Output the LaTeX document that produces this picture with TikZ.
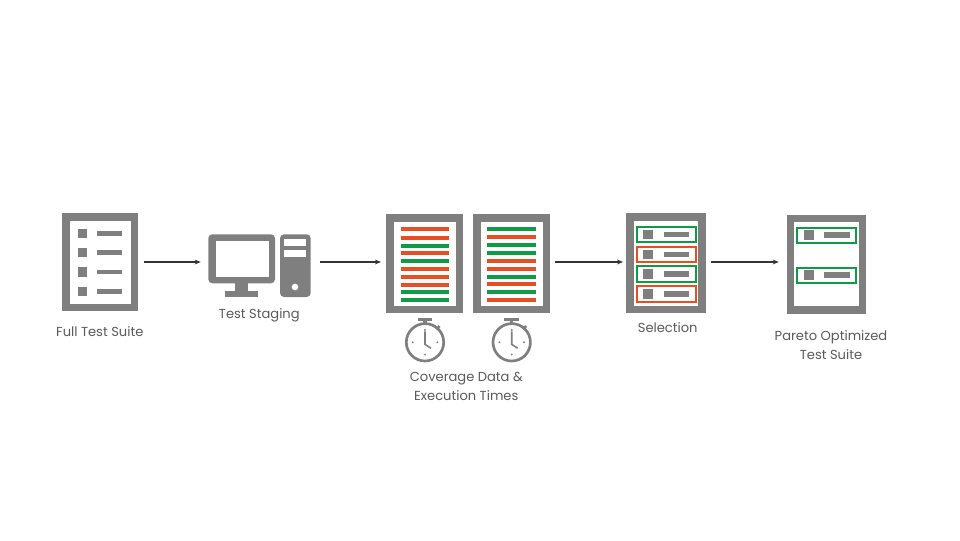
\documentclass[tikz,border=0pt]{standalone}
\usepackage{fontspec}
\setmainfont{Poppins}
\usepackage{tikz}
\usetikzlibrary{arrows.meta,positioning,calc}
\definecolor{iconGray}{HTML}{7F7F7F}
\definecolor{passGreen}{HTML}{0F9A48}
\definecolor{failRed}{HTML}{E84E23}
\definecolor{labelGray}{HTML}{5A5A5A}
% one row on a sheet: small square, short bar
\newcommand{\rowmark}[2]{%
  \fill[iconGray] (#1,#2-4.7) rectangle (#1+10,#2+4.7);
  \draw[line width=4pt, iconGray] (#1+20.6,#2) -- (#1+46,#2);
}

\begin{document}
\begin{tikzpicture}[>=Stealth, x=.75pt, y=-.75pt,
    sheet/.style 2 args={draw=iconGray, line width=5.5pt, fill=white, minimum width=#1, minimum height=#2, inner sep=0pt},
    flow/.style={-{Stealth[length=4.5pt,width=3.6pt]}, draw=black!80, line width=.8pt},
    caption/.style={font=\fontsize{9.8pt}{14.25pt}\selectfont, text=labelGray, inner sep=0pt, align=center},
    barline/.style={line width=3.2pt},
    rowbox/.style={line width=1.5pt}]
  \useasboundingbox (0,0) rectangle (960,540);
  \coordinate (rail) at (0,262);

  % full suite
  \node[sheet={51.3pt}{67.8pt}] (suite) at (100.15,262.2) {};
  \foreach \y in {233.3,252.7,272,291.3} {
    \fill[iconGray] (78,\y-4.7) rectangle (87.3,\y+4.7);
    \draw[line width=3.5pt, iconGray] (97.3,\y) -- (122,\y);
  }
  \node[caption] (suiteL) at (99.8,331.7) {Full Test Suite};

  % staging machine
  \node[minimum width=76.8pt, minimum height=47pt, inner sep=0pt] (staging) at (259.5,265.7) {};
  \fill[iconGray, rounded corners=3pt] (208.3,234.3) rectangle (275,283.3);
  \fill[white] (215.7,240.7) rectangle (268.7,277.3);
  \fill[iconGray] (235,280) rectangle (248.3,291);
  \fill[iconGray] (225,290.7) rectangle (258.3,297);
  \fill[iconGray, rounded corners=3pt] (280,234.3) rectangle (310.7,297);
  \fill[white] (284,239) rectangle (306,246);
  \fill[white] (284,250) rectangle (306,257);
  \fill[white] (295,287) circle (2.5pt);
  \node[caption] (stagingL) at (259.3,315) {Test Staging};

  % coverage sheets
  \node[sheet={52.3pt}{68.6pt}] (covA) at (424.8,263.8) {};
  \node[sheet={52.3pt}{68.6pt}] (covB) at (511.8,263.8) {};
  \foreach \y/\c in {229.3/failRed,237.7/failRed,245.7/passGreen,253.3/failRed,261.3/passGreen,269.3/failRed,277.3/failRed,284.7/failRed,292.3/passGreen,299.7/passGreen}
    \draw[barline, \c] (400.7,\y) -- (449.3,\y);
  \foreach \y/\c in {229/passGreen,237.3/failRed,245.3/passGreen,253/passGreen,260.7/failRed,268.7/failRed,277/passGreen,284.3/failRed,292.3/passGreen,299.7/failRed}
    \draw[barline, \c] (487.3,\y) -- (536.3,\y);

  % stopwatches
  \foreach \cx in {425,511.7} {
    \begin{scope}[shift={(\cx,342.3)}]
      \draw[iconGray, line width=2pt] (0,0) circle (18.7);
      \fill[iconGray] (-7.3,-24) rectangle (7.3,-21.3);
      \fill[iconGray] (-1.7,-22) rectangle (1.7,-18.5);
      \draw[iconGray, line width=2pt] (11.5,-13) -- (14.5,-16.3);
      \draw[iconGray, line width=1.2pt] (0,-11) -- (0,2) -- (6,6);
      \foreach \a in {0,90,180,270}
        \fill[iconGray] (\a:12.3) circle (.8pt);
    \end{scope}
  }
  \node[caption] (covL) at (466.3,386.2) {Coverage Data \&\\ Execution Times};

  % selection
  \node[sheet={54pt}{69.4pt}] (select) at (666,263.3) {};
  \foreach \y/\c in {234.6/passGreen,254.3/failRed,274/passGreen,294/failRed} {
    \draw[rowbox, \c] (637.3,\y-7.6) rectangle (695.7,\y+7.6);
    \rowmark{643}{\y}
  }
  \node[caption] (selectL) at (667.7,327.7) {Selection};

  % reduced suite
  \node[sheet={53.9pt}{68.8pt}] (pareto) at (826.35,264.2) {};
  \foreach \y in {235,275.1} {
    \draw[rowbox, passGreen] (797,\y-7.5) rectangle (855.7,\y+7.5);
    \rowmark{803.5}{\y}
  }
  \node[caption] (paretoL) at (831,345.3) {Pareto Optimized\\ Test Suite};

  % arrows along the rail
  \draw[flow, shorten <=4.5pt, shorten >=5.5pt] (suite.east |- rail) -- (staging.west |- rail);
  \draw[flow, shorten <=7pt, shorten >=4pt] (staging.east |- rail) -- (covA.west |- rail);
  \draw[flow, shorten <=3.5pt, shorten >=2.5pt] (covB.east |- rail) -- (select.west |- rail);
  \draw[flow, shorten <=4pt, shorten >=6pt] (select.east |- rail) -- (pareto.west |- rail);
\end{tikzpicture}
\end{document}
